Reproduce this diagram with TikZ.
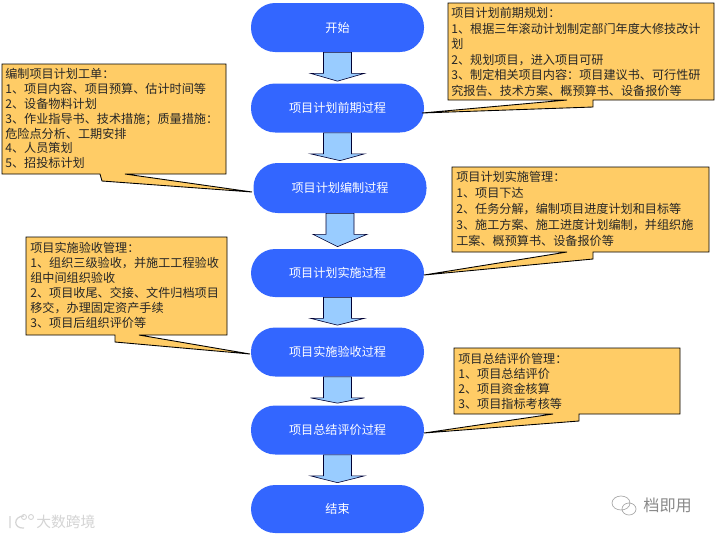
\documentclass[tikz,border=0pt]{standalone}
\usepackage{fontspec}
\setmainfont{Noto Sans CJK SC}
\usepackage{xcolor}
\usetikzlibrary{calc}
\definecolor{FlowBlue}{HTML}{3366FF}
\definecolor{ArrowBlue}{HTML}{99CCFF}
\definecolor{NoteOrange}{HTML}{FFCC66}
\definecolor{MarkGray}{HTML}{D4D4D4}
\definecolor{BrandGray}{HTML}{8A8A8A}
\tikzset{
  flowpill/.style={fill=FlowBlue,rounded corners=11.5mm*0.42,minimum width=34.6mm,text=white,font=\fontsize{6.9}{8}\selectfont,inner sep=0pt},
  flowarrow/.style={draw=black!80!blue,fill=ArrowBlue,line width=.35pt},
  notebox/.style={draw=black,fill=NoteOrange,line width=.5pt,line join=miter},
  notetext/.style={anchor=north west,align=left,inner sep=0pt,text=black!85},
}
\newcommand{\flowdown}[2]{%
\draw[flowarrow] ($(#1.south)+(-14,0)$) -- ($(#1.south)+(14,0)$)
  -- ($(#1.south)+(14,21)$) -- ($(#1.south)+(27,21)$) -- ($(#2.north)+(0,-2)$)
  -- ($(#1.south)+(-27,21)$) -- ($(#1.south)+(-14,21)$) -- cycle;}
\begin{document}
\begin{tikzpicture}[x=.2mm,y=-.2mm]
\path[use as bounding box] (0,0) rectangle (716,536);
\fill[white] (0,0) rectangle (716,536);
\node[flowpill,minimum height=9.8mm] (start) at (337.5,27.5) {开始};
\node[flowpill,minimum height=9.8mm] (early) at (337.5,108) {项目计划前期过程};
\node[flowpill,minimum height=10mm] (draft) at (340,188) {项目计划编制过程};
\node[flowpill,minimum height=9.6mm] (exec) at (337.5,273) {项目计划实施过程};
\node[flowpill,minimum height=9.8mm] (accept) at (337.5,352) {项目实施验收过程};
\node[flowpill,minimum height=9.8mm] (review) at (337.5,430) {项目总结评价过程};
\node[flowpill,minimum height=9.6mm] (finish) at (337.5,509) {结束};
\flowdown{start}{early}
\flowdown{early}{draft}
\flowdown{draft}{exec}
\flowdown{exec}{accept}
\flowdown{accept}{review}
\flowdown{review}{finish}
\coordinate (tipearly) at (422,113);
\coordinate (tipdraft) at (252,192);
\coordinate (tipexec) at (424,275);
\coordinate (tipaccept) at (250,354);
\coordinate (tipreview) at (424,433);
\draw[notebox] (448,3) -- (714,3) -- (714,100) -- (593,100) -- (593,107) -- (tipearly) -- (567,100) -- (448,100) -- cycle;
\draw[notebox] (2,64) -- (226,64) -- (226,174) -- (125,174) -- (tipdraft) -- (102,181) -- (100,174) -- (2,174) -- cycle;
\draw[notebox] (452,167) -- (709,167) -- (709,252) -- (593,252) -- (593,259) -- (tipexec) -- (567,252) -- (452,252) -- cycle;
\draw[notebox] (26,237) -- (227,237) -- (227,335) -- (139,335) -- (tipaccept) -- (115,342) -- (115,335) -- (26,335) -- cycle;
\draw[notebox] (454,348) -- (680,348) -- (680,414) -- (579,414) -- (579,421) -- (tipreview) -- (553,414) -- (454,414) -- cycle;
\node[notetext,font=\fontsize{6.9}{8.82}\selectfont] (earlynote) at (451,7) {项目计划前期规划：\\1、根据三年滚动计划制定部门年度大修技改计\\划\\2、规划项目，进入项目可研\\3、制定相关项目内容：项目建议书、可行性研\\究报告、技术方案、概预算书、设备报价等};
\node[notetext,font=\fontsize{6.9}{8.45}\selectfont] (draftnote) at (5,68) {编制项目计划工单：\\1、项目内容、项目预算、估计时间等\\2、设备物料计划\\3、作业指导书、技术措施；质量措施：\\危险点分析、工期安排\\4、人员策划\\5、招投标计划};
\node[notetext,font=\fontsize{6.9}{9.1}\selectfont] (execnote) at (456,171) {项目计划实施管理：\\1、项目下达\\2、任务分解，编制项目进度计划和目标等\\3、施工方案、施工进度计划编制，并组织施\\工案、概预算书、设备报价等};
\node[notetext,font=\fontsize{6.9}{8.54}\selectfont] (acceptnote) at (30,242) {项目实施验收管理：\\1、组织三级验收，并施工工程验收\\组中间组织验收\\2、项目收尾、交接、文件归档项目\\移交，办理固定资产手续\\3、项目后组织评价等};
\node[notetext,font=\fontsize{6.9}{8.54}\selectfont] (reviewnote) at (458,353) {项目总结评价管理：\\1、项目总结评价\\2、项目资金核算\\3、项目指标考核等};
\node[anchor=west,inner sep=0pt,text=MarkGray,font=\fontsize{8.4}{9}\selectfont] (leftmark) at (36,522) {大数跨境};
\draw[MarkGray,line width=.7pt] (10,516) -- (10,528) (24,516) .. controls (13,516) and (13,529) .. (24,528);
\draw[MarkGray,line width=.5pt] (24,517) circle (2.5) (31,517) circle (2.5);
\node[anchor=west,inner sep=0pt,text=BrandGray,font=\fontsize{9.2}{10}\selectfont] (rightmark) at (643,505) {档即用};
\draw[MarkGray!80!black,line width=.4pt] (621,503) ellipse (9 and 7) (629,509) ellipse (7 and 6);
\end{tikzpicture}
\end{document}
